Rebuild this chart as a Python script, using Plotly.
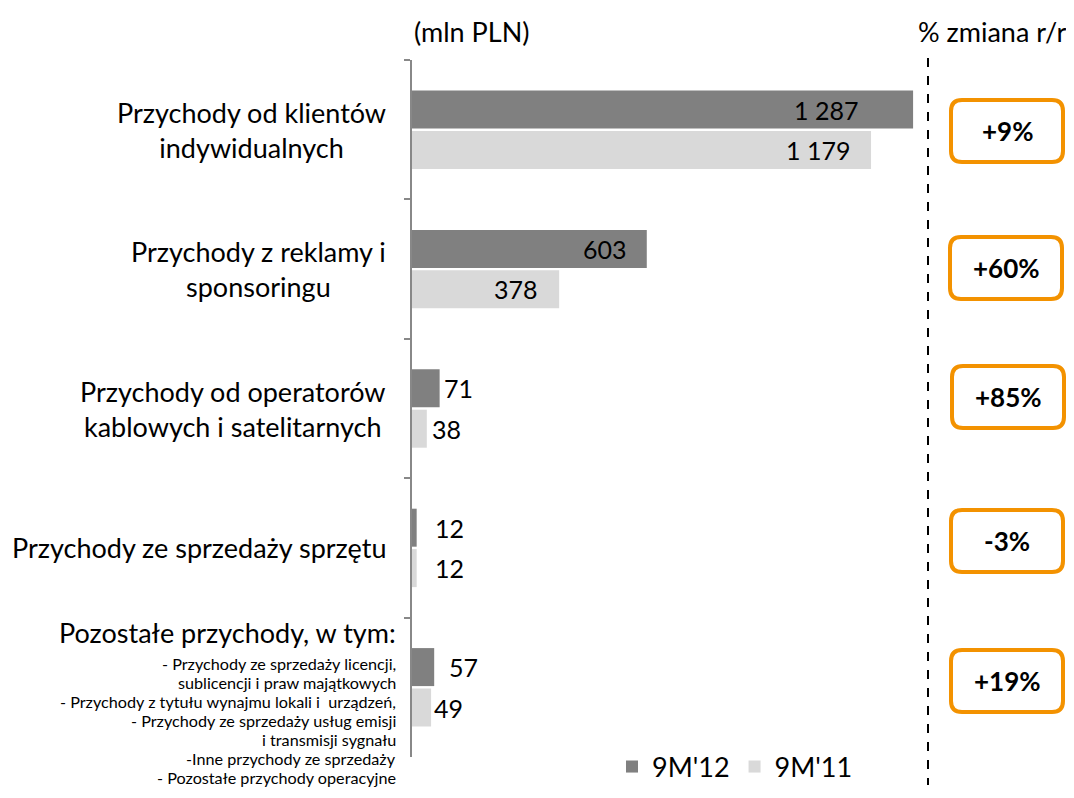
import plotly.graph_objects as go

categories = ["klienci", "reklama", "operatorzy", "sprzet", "pozostale"]
label_lines = [
    ["Przychody od klientów", "indywidualnych"],
    ["Przychody z reklamy i", "sponsoringu"],
    ["Przychody od operatorów", "kablowych i satelitarnych"],
    ["Przychody ze sprzedaży sprzętu"],
]
other_title = "Pozostałe przychody, w tym:"
other_lines = [
    "- Przychody ze sprzedaży licencji,",
    "sublicencji i praw majątkowych",
    "- Przychody z tytułu wynajmu lokali i  urządzeń,",
    "- Przychody ze sprzedaży usług emisji",
    "i transmisji sygnału",
    "-Inne przychody ze sprzedaży",
    "- Pozostałe przychody operacyjne",
]
values_9m12 = [1287, 603, 71, 12, 57]
values_9m11 = [1179, 378, 38, 12, 49]
changes = ["+9%", "+60%", "+85%", "-3%", "+19%"]
series_names = ["9M'12", "9M'11"]

# value-label placement (style): inside labels anchored right, outside anchored left
label_anchor = ["right", "right", "left", "left", "left"]
label_shift_12 = [-53, -18, 2, 16, 13]
label_shift_11 = [-19, -19, 3, 16, 1]

FONT = "Lato"
OFF = 8  # page body margin
W, H = 1062, 782
L, T, B = 404, 52, 33
PW, PH = W - L, H - T - B
BOTTOM = H - B
BAR_OFFSET = 20.2


def px(xr):
    return (xr - OFF - L) / PW


def py(yr):
    return (BOTTOM - (yr - OFF)) / PH


def fmt(v):
    return f"{v:,}".replace(",", " ")


fig = go.Figure()
for name, vals, col in [(series_names[0], values_9m12, "#808080"),
                        (series_names[1], values_9m11, "#D9D9D9")]:
    fig.add_trace(go.Bar(
        y=categories, x=vals, orientation="h", name=name,
        marker=dict(color=col, line=dict(width=0)),
        hovertemplate="%{y}: %{x}<extra>" + name + "</extra>",
    ))

annotations = []
for vals, shifts, ysh in [(values_9m12, label_shift_12, BAR_OFFSET),
                          (values_9m11, label_shift_11, -BAR_OFFSET)]:
    for cat, v, anc, sh in zip(categories, vals, label_anchor, shifts):
        annotations.append(dict(
            xref="x", yref="y", x=v, y=cat, xanchor=anc, yanchor="middle",
            xshift=sh, yshift=ysh, text=fmt(v), showarrow=False,
            font=dict(family=FONT, size=25, color="black"),
        ))

for cat, lines in zip(categories, label_lines):
    annotations.append(dict(
        xref="paper", yref="y", x=px(388), y=cat, xanchor="right", yanchor="middle",
        align="center", text="<br>".join(lines), showarrow=False,
        font=dict(family=FONT, size=27, color="black"),
    ))
annotations.append(dict(
    xref="paper", yref="paper", x=px(398), y=py(632), xanchor="right", yanchor="middle",
    align="right", text=other_title, showarrow=False,
    font=dict(family=FONT, size=27, color="black"),
))
for i, line in enumerate(other_lines):
    annotations.append(dict(
        xref="paper", yref="paper", x=px(398), y=py(663 + i * 19.0), xanchor="right",
        yanchor="middle", align="right", text=line, showarrow=False,
        font=dict(family=FONT, size=16.2, color="black"),
    ))
annotations.append(dict(xref="paper", yref="paper", x=px(412), y=py(31), xanchor="left",
                        yanchor="middle", text="(mln PLN)", showarrow=False,
                        font=dict(family=FONT, size=27, color="black")))
annotations.append(dict(xref="paper", yref="paper", x=px(1068), y=py(31), xanchor="right",
                        yanchor="middle", text="% zmiana r/r", showarrow=False,
                        font=dict(family=FONT, size=27, color="black")))

shapes = [dict(type="line", xref="paper", yref="paper", x0=px(928), x1=px(928),
               y0=py(58), y1=py(785), line=dict(color="black", width=2, dash="dash"))]

box_centers_y = [131, 268, 397, 541, 681]
box_centers_x = [1007, 1006, 1008, 1007, 1007]
bw, bh, r = 56, 31, 11
path = (f"M {-bw + r},{-bh} L {bw - r},{-bh} Q {bw},{-bh} {bw},{-bh + r} "
        f"L {bw},{bh - r} Q {bw},{bh} {bw - r},{bh} L {-bw + r},{bh} "
        f"Q {-bw},{bh} {-bw},{bh - r} L {-bw},{-bh + r} Q {-bw},{-bh} {-bw + r},{-bh} Z")
for cx, cy, ch in zip(box_centers_x, box_centers_y, changes):
    shapes.append(dict(type="path", xref="paper", yref="paper", xsizemode="pixel",
                       ysizemode="pixel", xanchor=px(cx), yanchor=py(cy), path=path,
                       line=dict(color="#F39200", width=4), fillcolor="white"))
    annotations.append(dict(xref="paper", yref="paper", x=px(cx), y=py(cy), xanchor="center",
                            yanchor="middle", text=f"<b>{ch}</b>", showarrow=False,
                            font=dict(family=FONT, size=26, color="black")))

fig.update_layout(
    width=W, height=H, margin=dict(l=L, r=0, t=T, b=B, autoexpand=False),
    paper_bgcolor="white", plot_bgcolor="white",
    barmode="group", bargap=0.42, bargroupgap=0.06,
    xaxis=dict(range=[0, 1690], visible=False, fixedrange=True),
    yaxis=dict(range=[4.5, -0.5], showline=True, linecolor="#888888", linewidth=2,
               ticks="outside", tickson="boundaries", ticklen=6, tickcolor="#888888",
               tickwidth=2, showticklabels=False, showgrid=False, zeroline=False),
    showlegend=True,
    legend=dict(orientation="h", x=px(612), y=py(767), xanchor="left", yanchor="middle",
                font=dict(family=FONT, size=27, color="black"), traceorder="normal",
                itemwidth=30, bgcolor="rgba(0,0,0,0)"),
    annotations=annotations, shapes=shapes,
    font=dict(family=FONT),
)

fig.write_html("out.html")
